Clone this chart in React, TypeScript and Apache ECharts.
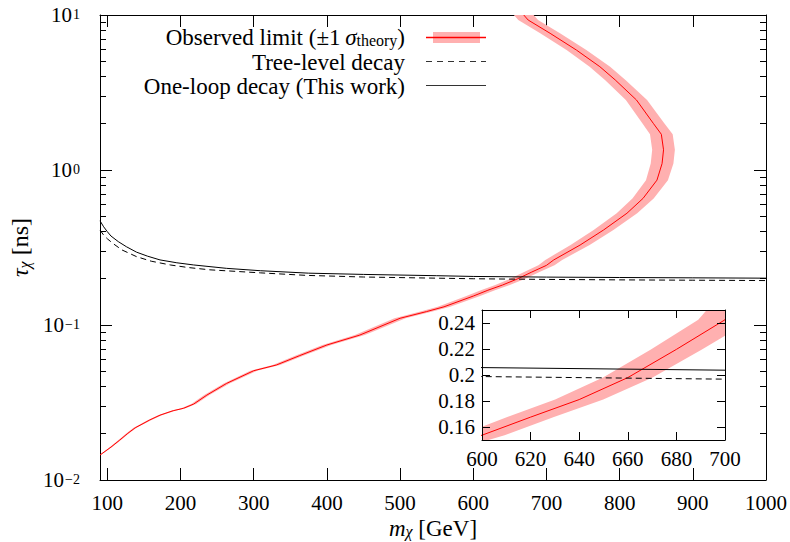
import React, { useEffect, useRef } from 'react';
import * as echarts from 'echarts';

// Observed limit (central), mass [GeV] and lifetime [ns]
const limitMass = [90, 105, 117, 128, 138, 158, 172, 190, 204, 218, 236, 263, 300, 331, 363, 400, 445, 500, 536, 560, 600, 620, 640, 660, 680, 700, 710, 746, 778, 810, 832, 851, 858, 860, 857, 846, 823, 794, 773, 741, 705, 675, 669];
const limitTau = [0.0145, 0.0163, 0.0181, 0.02, 0.0217, 0.0244, 0.0262, 0.028, 0.029, 0.0309, 0.0353, 0.042, 0.0507, 0.0552, 0.0635, 0.0743, 0.0861, 0.1105, 0.122, 0.131, 0.1537, 0.1676, 0.1811, 0.198, 0.2197, 0.2425, 0.263, 0.328, 0.41, 0.526, 0.656, 0.86, 1.1, 1.35, 1.7, 2.0, 2.83, 3.81, 4.64, 5.94, 7.62, 9.28, 10.0];
// ±1 sigma_theory band: half width in mass [GeV] at each point
const limitBandHalfWidth = [1.4, 1.6, 1.8, 1.9, 2.1, 2.4, 2.6, 2.9, 3.1, 3.3, 3.6, 4.0, 4.6, 5.0, 5.5, 6.0, 6.8, 7.6, 8.2, 8.5, 9.3, 9.6, 9.9, 10.2, 10.5, 11.0, 11.5, 13.0, 13.5, 14.0, 14.5, 15.0, 15.5, 15.5, 15.5, 15.0, 14.5, 14.0, 14.0, 13.5, 13.5, 13.5, 13.5];

// One-loop decay (This work)
const oneLoopMass = [90, 95, 100, 105, 115, 126, 140, 155, 172, 195, 218, 263, 309, 375, 450, 550, 600, 700, 800, 900, 1000];
const oneLoopTau = [0.47, 0.43, 0.4, 0.375, 0.345, 0.32, 0.295, 0.278, 0.263, 0.252, 0.244, 0.232, 0.224, 0.216, 0.212, 0.208, 0.2057, 0.2037, 0.2025, 0.2015, 0.2005];

// Tree-level decay
const treeMass = [90, 95, 100, 108, 120, 140, 160, 186, 210, 240, 309, 372, 450, 550, 600, 700, 800, 900, 1000];
const treeTau = [0.41, 0.38, 0.36, 0.335, 0.305, 0.276, 0.258, 0.244, 0.235, 0.227, 0.217, 0.209, 0.204, 0.2005, 0.1988, 0.1968, 0.1955, 0.1945, 0.1935];

// Ticks
const mainXTicks = [100, 200, 300, 400, 500, 600, 700, 800, 900, 1000];
const mainYMajor = [0.01, 0.1, 1, 10];
const mainYMinor = [0.02, 0.03, 0.04, 0.05, 0.06, 0.07, 0.08, 0.09, 0.2, 0.3, 0.4, 0.5, 0.6, 0.7, 0.8, 0.9, 2, 3, 4, 5, 6, 7, 8, 9];
const insetYTicks = [0.16, 0.18, 0.2, 0.22, 0.24];

const legendLabels = ['Observed limit (±1\u2009', 'Tree-level decay', 'One-loop decay (This work)'];

const FONT = '"Liberation Serif", "Times New Roman", serif';
const RED = '#ff0000';
const BAND = '#ffb0b0';

const pairs = (xs: number[], ys: number[]) => xs.map((x, i) => [x, ys[i]]);

function bandRender(params: any, api: any) {
  const pts: number[][] = [];
  for (let i = 0; i < limitMass.length; i++) {
    pts.push(api.coord([limitMass[i] + limitBandHalfWidth[i], limitTau[i]]));
  }
  for (let i = limitMass.length - 1; i >= 0; i--) {
    pts.push(api.coord([Math.max(90, limitMass[i] - limitBandHalfWidth[i]), limitTau[i]]));
  }
  const cs = params.coordSys;
  return {
    type: 'polygon',
    shape: { points: pts },
    style: { fill: BAND },
    clipPath: { type: 'rect', shape: { x: cs.x, y: cs.y, width: cs.width, height: cs.height } },
  };
}

export default function App() {
  const ref = useRef<HTMLDivElement>(null);
  useEffect(() => {
    if (!ref.current) return;
    const chart = echarts.init(ref.current, null, { renderer: 'svg' });
    const tickStyle = { color: '#000', width: 1 };
    const axisLine = { show: true, onZero: false, lineStyle: { color: '#000', width: 1 } };
    const noLine = { show: false, onZero: false };
    const expMajor = mainYMajor.map((v) => Math.log10(v));
    const expMinor = mainYMinor.map((v) => Math.log10(v));
    const nameRich = {
      m: { fontSize: 23, fontStyle: 'italic', fontFamily: FONT, lineHeight: 22, padding: [0, 0, 2, 0], verticalAlign: 'top', color: '#000' },
      s: { fontSize: 16, fontStyle: 'italic', fontFamily: FONT, lineHeight: 16, verticalAlign: 'bottom', color: '#000' },
      t: { fontSize: 23, fontFamily: FONT, lineHeight: 22, padding: [0, 0, 2, 0], verticalAlign: 'top', color: '#000' },
    };
    const nameRichY = {
      m: { fontSize: 24, fontStyle: 'italic', fontFamily: FONT, lineHeight: 24, padding: [0, 0, 3, 0], verticalAlign: 'top', color: '#000' },
      s: { fontSize: 16, fontStyle: 'italic', fontFamily: FONT, lineHeight: 16, verticalAlign: 'bottom', color: '#000' },
      t: { fontSize: 24, fontFamily: FONT, lineHeight: 24, padding: [0, 0, 3, 0], verticalAlign: 'top', color: '#000' },
    };
    const tickOnlyY = (position: string, ticks: number[], length: number, showLine: boolean) => ({
      gridIndex: 0, type: 'value', min: -2, max: 1, position,
      axisLine: showLine ? axisLine : noLine, splitLine: { show: false },
      axisTick: { inside: true, length, lineStyle: tickStyle, customValues: ticks },
      axisLabel: { show: false },
    });
    const option: any = {
      animation: false,
      backgroundColor: '#fff',
      grid: [
        { left: 100, top: 15, width: 666, height: 465, outerBoundsMode: 'none', containLabel: false },
        { left: 482, top: 310, width: 243, height: 130, outerBoundsMode: 'none', containLabel: false },
      ],
      xAxis: [
        {
          gridIndex: 0, type: 'value', min: 90, max: 1000, position: 'bottom',
          axisLine, splitLine: { show: false },
          axisTick: { inside: true, length: 12, lineStyle: tickStyle, customValues: mainXTicks },
          axisLabel: { customValues: mainXTicks, margin: 12, fontSize: 21, lineHeight: 21, fontFamily: FONT, color: '#000', formatter: (v: number) => String(v) },
          name: '{m|m}{s|χ}{t| [GeV]}', nameLocation: 'middle', nameGap: 37, nameMoveOverlap: false,
          nameTextStyle: { color: '#000', fontFamily: FONT, rich: nameRich },
        },
        {
          gridIndex: 0, type: 'value', min: 90, max: 1000, position: 'top',
          axisLine, splitLine: { show: false },
          axisTick: { inside: true, length: 12, lineStyle: tickStyle, customValues: mainXTicks },
          axisLabel: { show: false },
        },
        {
          gridIndex: 1, type: 'value', min: 600, max: 700, interval: 20, position: 'bottom', z: 10,
          axisLine, splitLine: { show: false },
          axisTick: { inside: true, length: 8, lineStyle: tickStyle },
          axisLabel: { margin: 8, fontSize: 21, fontFamily: FONT, color: '#000' },
        },
        {
          gridIndex: 1, type: 'value', min: 600, max: 700, interval: 20, position: 'top', z: 10,
          axisLine, splitLine: { show: false },
          axisTick: { inside: true, length: 8, lineStyle: tickStyle },
          axisLabel: { show: false },
        },
      ],
      yAxis: [
        {
          gridIndex: 0, type: 'log', logBase: 10, min: 0.01, max: 10, position: 'left',
          axisLine, splitLine: { show: false },
          axisTick: { show: false },
          axisLabel: {
            customValues: mainYMajor, margin: 20, color: '#000', fontFamily: FONT,
            formatter: (v: number) => {
              const e = Math.round(Math.log10(v));
              return `{b|10}{s|${e < 0 ? '\u2212' + -e : e}}`;
            },
            rich: {
              b: { fontSize: 21, fontFamily: FONT, lineHeight: 21, padding: [7, 0, 7, 0], color: '#000' },
              s: { fontSize: 14, fontFamily: FONT, lineHeight: 14, padding: [3, 0, 0, 1], verticalAlign: 'top', color: '#000' },
            },
          },
          name: '{m|τ}{s|χ}{t| [ns]}', nameLocation: 'middle', nameGap: 68, nameMoveOverlap: false,
          nameTextStyle: { color: '#000', fontFamily: FONT, rich: nameRichY },
        },
        tickOnlyY('left', expMajor, 12, false),
        tickOnlyY('left', expMinor, 6, false),
        tickOnlyY('right', expMajor, 12, true),
        tickOnlyY('right', expMinor, 6, false),
        {
          gridIndex: 1, type: 'value', min: 0.15, max: 0.25, position: 'left', z: 10,
          axisLine, splitLine: { show: false },
          axisTick: { inside: true, length: 8, lineStyle: tickStyle, customValues: insetYTicks },
          axisLabel: { customValues: insetYTicks, margin: 7, fontSize: 21, fontFamily: FONT, color: '#000' },
        },
        {
          gridIndex: 1, type: 'value', min: 0.15, max: 0.25, position: 'right', z: 10,
          axisLine, splitLine: { show: false },
          axisTick: { inside: true, length: 8, lineStyle: tickStyle, customValues: insetYTicks },
          axisLabel: { show: false },
        },
      ],
      graphic: [
        { type: 'rect', z: 5, shape: { x: 482, y: 310, width: 243, height: 130 }, style: { fill: '#fff' } },
        // legend
        {
          type: 'text', x: 405, y: 37, z: 20,
          style: {
            text: `{a|${legendLabels[0]}}{g|σ}{sub|theory}{a|)}`,
            align: 'right', verticalAlign: 'middle', fill: '#000',
            rich: {
              a: { fontSize: 23, fontFamily: FONT, lineHeight: 23, padding: [0, 0, 2, 0], verticalAlign: 'top', fill: '#000' },
              g: { fontSize: 23, fontFamily: FONT, fontStyle: 'italic', lineHeight: 23, padding: [0, 0, 2, 0], verticalAlign: 'top', fill: '#000' },
              sub: { fontSize: 16, fontFamily: FONT, lineHeight: 16, verticalAlign: 'bottom', fill: '#000' },
            },
          },
        },
        { type: 'text', x: 405, y: 62, z: 20, style: { text: legendLabels[1], align: 'right', verticalAlign: 'middle', fontSize: 23, lineHeight: 22, fontFamily: FONT, fill: '#000' } },
        { type: 'text', x: 405, y: 86, z: 20, style: { text: legendLabels[2], align: 'right', verticalAlign: 'middle', fontSize: 23, lineHeight: 22, fontFamily: FONT, fill: '#000' } },
        { type: 'rect', z: 20, shape: { x: 433, y: 32, width: 47, height: 11 }, style: { fill: BAND } },
        { type: 'line', z: 21, shape: { x1: 426, y1: 37.5, x2: 486, y2: 37.5 }, style: { stroke: RED, lineWidth: 1.5 } },
        { type: 'line', z: 20, shape: { x1: 426, y1: 61.5, x2: 486, y2: 61.5 }, style: { stroke: '#333', lineWidth: 1, lineDash: [6, 5] } },
        { type: 'line', z: 20, shape: { x1: 426, y1: 85.5, x2: 486, y2: 85.5 }, style: { stroke: '#333', lineWidth: 1 } },
      ],
      series: [
        { type: 'custom', xAxisIndex: 0, yAxisIndex: 0, data: [[600, 0.2]], silent: true, renderItem: bandRender, z: 2 },
        { type: 'line', xAxisIndex: 0, yAxisIndex: 0, data: pairs(limitMass, limitTau), symbol: 'none', lineStyle: { color: RED, width: 1 }, z: 3 },
        { type: 'line', xAxisIndex: 0, yAxisIndex: 0, data: pairs(treeMass, treeTau), symbol: 'none', lineStyle: { color: '#000', width: 1, type: [6, 4] }, z: 3 },
        { type: 'line', xAxisIndex: 0, yAxisIndex: 0, data: pairs(oneLoopMass, oneLoopTau), symbol: 'none', lineStyle: { color: '#000', width: 1 }, z: 3 },
        { type: 'custom', xAxisIndex: 2, yAxisIndex: 5, data: [[650, 0.2]], silent: true, renderItem: bandRender, z: 8 },
        { type: 'line', xAxisIndex: 2, yAxisIndex: 5, data: pairs(limitMass, limitTau), symbol: 'none', clip: true, lineStyle: { color: RED, width: 1 }, z: 9 },
        { type: 'line', xAxisIndex: 2, yAxisIndex: 5, data: pairs(treeMass, treeTau), symbol: 'none', clip: true, lineStyle: { color: '#000', width: 1, type: [6, 4] }, z: 9 },
        { type: 'line', xAxisIndex: 2, yAxisIndex: 5, data: pairs(oneLoopMass, oneLoopTau), symbol: 'none', clip: true, lineStyle: { color: '#000', width: 1 }, z: 9 },
      ],
    };
    chart.setOption(option);
    return () => chart.dispose();
  }, []);
  return <div ref={ref} style={{ position: 'absolute', left: 0, top: 0, width: 790, height: 542 }} />;
}
